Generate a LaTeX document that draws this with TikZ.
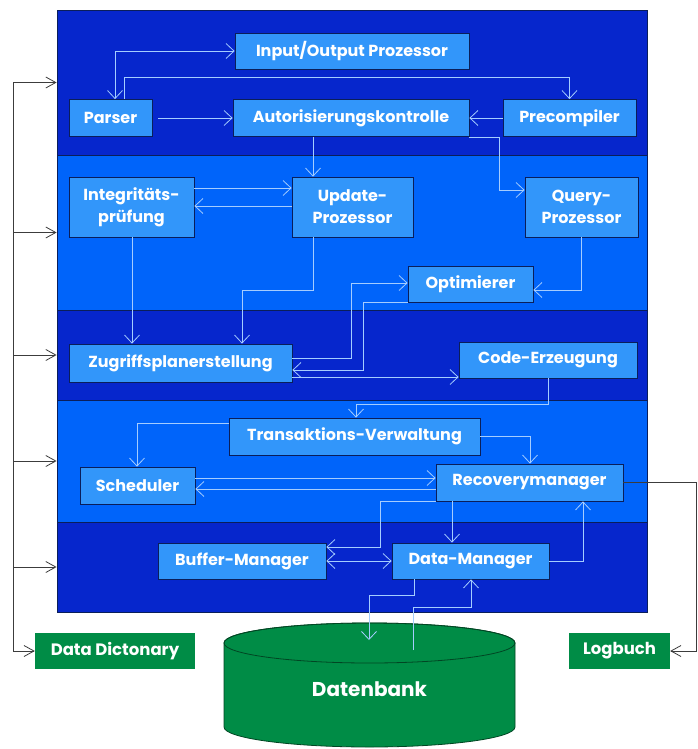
\documentclass[tikz,border=0pt]{standalone}
\usepackage{fontspec}
\setmainfont{Poppins}
\usetikzlibrary{arrows.meta}
\definecolor{bandDark}{RGB}{6,38,204}
\definecolor{bandLight}{RGB}{0,100,250}
\definecolor{boxFill}{RGB}{50,150,250}
\definecolor{boxLine}{RGB}{10,30,90}
\definecolor{linkBlue}{RGB}{165,205,255}
\definecolor{barGray}{RGB}{60,60,60}
\definecolor{dbGreen}{RGB}{0,140,70}
\definecolor{dbLine}{RGB}{0,70,35}

\begin{document}
\begin{tikzpicture}[x=1pt,y=-1pt,
    >={Straight Barb[length=8pt,width=15pt]},
    band/.style={draw=boxLine, line width=0.8pt, inner sep=0pt, minimum width=590pt},
    box/.style={draw=boxLine, fill=boxFill, text=white, line width=0.8pt, inner sep=0pt,
      align=center, font=\bfseries\fontsize{16}{22}\selectfont},
    gbox/.style={fill=dbGreen, text=white, inner sep=0pt, minimum height=36pt,
      font=\bfseries\fontsize{16.5}{18}\selectfont},
    lnk/.style={draw=linkBlue, line width=0.8pt, ->},
    bar/.style={draw=barGray, line width=0.8pt, ->, >={Straight Barb[length=10pt,width=11pt]}}]
          \useasboundingbox[fill=white] (0,0) rectangle (698,749);
          \node[band, fill=bandDark, minimum height=145pt] (band1) at (352,82.5) {};
          \node[band, fill=bandLight, minimum height=155pt] (band2) at (352,232.5) {};
          \node[band, fill=bandDark, minimum height=90pt] (band3) at (352,355) {};
          \node[band, fill=bandLight, minimum height=122pt] (band4) at (352,461) {};
          \node[band, fill=bandDark, minimum height=90pt] (band5) at (352,567) {};
          \node[gbox, minimum width=160pt] (dict) at (115,651) {Data Dictonary};
          \node[gbox, minimum width=101pt] (logbuch) at (619.5,651) {Logbuch};
          \filldraw[fill=dbGreen, draw=dbLine, line width=0.8pt] (224,643) -- (224,727)
            arc[start angle=180, end angle=360, x radius=145.5pt, y radius=20pt] -- (515,643)
            arc[start angle=0, end angle=180, x radius=145.5pt, y radius=20pt] -- cycle;
          \draw[dbLine, line width=0.8pt] (369.5,643) ellipse[x radius=145.5pt, y radius=20pt];
          \node[text=white, font=\bfseries\fontsize{20}{24}\selectfont] (db) at (369.5,689) {Datenbank};
          \coordinate (dbin) at (369,640);
          \coordinate (dbout) at (413,650);
          \coordinate (bus) at (13,0);
          \coordinate (rbus) at (696,0);
          \node[box, minimum width=234pt, minimum height=36pt] (io) at (352,51) {Input/Output Prozessor};
          \node[box, minimum width=83pt, minimum height=37pt] (parser) at (110.5,118) {Parser};
          \node[box, minimum width=236pt, minimum height=37pt] (auth) at (351,118) {Autorisierungskontrolle};
          \node[box, minimum width=133pt, minimum height=37pt] (precomp) at (569.5,118) {Precompiler};
          \node[box, minimum width=125pt, minimum height=60pt] (integ) at (131.5,207) {Integritäts-\\prüfung};
          \node[box, minimum width=121pt, minimum height=60pt] (update) at (352.5,207) {Update-\\Prozessor};
          \node[box, minimum width=113pt, minimum height=60pt] (query) at (581.5,207) {Query-\\Prozessor};
          \node[box, minimum width=125pt, minimum height=36pt] (optim) at (470.5,284) {Optimierer};
          \node[box, minimum width=223pt, minimum height=38pt] (zugriff) at (180.5,363) {Zugriffsplanerstellung};
          \node[box, minimum width=178pt, minimum height=36pt] (code) at (548,360) {Code-Erzeugung};
          \node[box, minimum width=251pt, minimum height=37pt] (trans) at (354.5,436.5) {Transaktions-Verwaltung};
          \node[box, minimum width=115pt, minimum height=37pt] (sched) at (137.5,485.5) {Scheduler};
          \node[box, minimum width=187pt, minimum height=37pt] (recov) at (529.5,482.5) {Recoverymanager};
          \node[box, minimum width=168pt, minimum height=36pt] (buffer) at (242,561) {Buffer-Manager};
          \node[box, minimum width=157pt, minimum height=36pt] (datam) at (470.5,561) {Data-Manager};
          \draw[bar,<->] (band1.west) -| (bus |- dict.west) -- (dict.west);
          \foreach \b in {band2,band3,band4,band5}
            \draw[bar] (bus |- \b.west) -- (\b.west);
          \draw[bar] (recov.east) -| (rbus |- logbuch.east) -- (logbuch.east);
          \draw[lnk,<->] (parser.north -| 115,0) |- (io.west);
          \draw[lnk] (parser.north -| 124,0) -- ++(0,-22) -| (precomp.north);
          \draw[lnk] ([xshift=6pt]parser.east) -- (auth.west);
          \draw[lnk] (precomp.west) -- (auth.east);
          \draw[lnk] (auth.south -| 313,0) -- (update.north -| 313,0);
          \draw[lnk] (auth.south east) -| (499,190) -- (query.west |- 0,190);
          \draw[lnk] (integ.east |- 0,188) -- (update.west |- 0,188);
          \draw[lnk] (update.west |- 0,206) -- (integ.east |- 0,206);
          \draw[lnk] (integ.south -| 132,0) -- (zugriff.north -| 132,0);
          \draw[lnk] (update.south -| 313,0) |- (242,290) -- (zugriff.north -| 242,0);
          \draw[lnk] (query.south) |- (optim.east |- 0,290);
          \draw[lnk] (zugriff.east |- 0,358) -| (351,283) -- (optim.west |- 0,283);
          \draw[lnk] (optim.south west) -| (363,370) -- (zugriff.east |- 0,370);
          \draw[lnk] (zugriff.east |- 0,377) -- (code.west |- 0,377);
          \draw[lnk] (code.south) |- (356,404) -- (trans.north -| 356,0);
          \draw[lnk] (trans.west |- 0,423) -| (sched.north -| 137,0);
          \draw[lnk] (trans.east) -| (recov.north -| 530,0);
          \draw[lnk] (sched.east |- 0,478) -- (recov.west |- 0,478);
          \draw[lnk] (recov.west |- 0,489) -- (sched.east |- 0,489);
          \draw[lnk] (recov.south west) -| (380,547) -- (buffer.east |- 0,547);
          \draw[lnk] (recov.south -| 452,0) -- (datam.north -| 452,0);
          \draw[lnk,<->] (buffer.east) -- (datam.west);
          \draw[lnk] (datam.east) -| (recov.south -| 583,0);
          \draw[lnk] (datam.south -| 414,0) |- (369,595) -- (dbin);
          \draw[lnk] (dbout) |- (471,607) -- (datam.south -| 471,0);
        \end{tikzpicture}
\end{document}
